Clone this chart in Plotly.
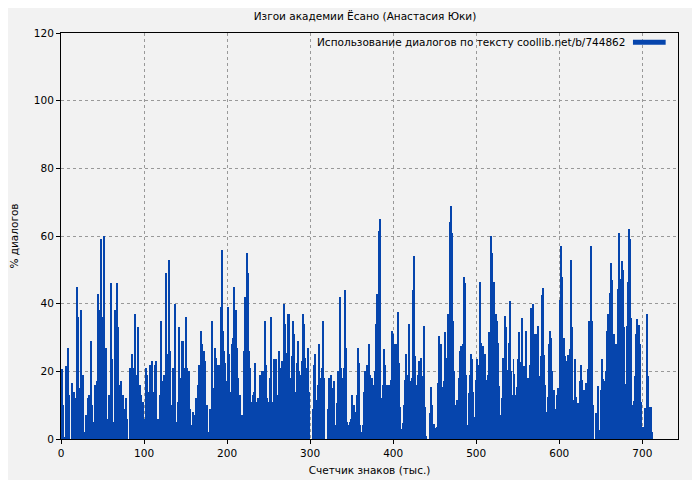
import numpy as np
import plotly.graph_objects as go

# usage of dialogue (%), four stretches of the text (thousand chars)
seg1 = [20.6, 10, 0.5, 21.5, 27, 13, 0, 16.5, 14, 12, 45, 36, 15, 38, 19, 2, 7, 12, 13, 29,
        10, 5, 16, 17, 43, 38, 59, 36, 60, 27, 6, 13, 46, 23.5, 5, 38, 46, 33, 16, 17,
        13, 9, 12, 6, 0, 21, 25, 21, 37, 19, 33, 16, 13, 11, 6, 21, 19, 14, 22, 23,
        14, 22, 23, 6, 13, 35, 17, 19, 49, 25, 53, 26, 10, 21, 40, 5, 11, 33, 18, 29,
        21, 36, 21, 20, 9, 4, 8, 7, 12, 16, 22, 32, 28, 26, 23, 10, 2, 9, 35, 15, 27, 24, 22]
seg2 = [16, 22, 39, 56, 32, 26, 22.5, 17, 11, 39, 25, 6, 14, 28, 30, 45, 29, 38, 27, 18,
        9, 13, 4, 7, 5, 26, 42, 32, 55, 49, 26, 21, 11, 13, 14, 22.5, 11, 7, 12, 9,
        19, 14, 20, 13, 20, 35, 22, 12, 11, 4, 18, 36, 8.5, 11, 23.5, 18, 23.5, 5, 13, 26,
        21, 13, 23, 22.5, 40, 34, 13, 25.5, 37, 37, 18, 12, 24.5, 35, 31, 14, 22.5, 29, 20, 11,
        19, 23, 37, 34, 24, 19, 21, 27, 14, 0, 0, 0, 9, 22, 25, 9, 11.5, 16, 28, 18,
        5, 21, 35, 18, 0, 0, 0, 9, 18, 9, 19, 15, 12.5, 17, 4, 2, 10.5, 20, 42, 21,
        8, 18, 21, 44, 27, 5, 2, 4, 5, 6, 13, 9, 10, 8, 3, 13, 27, 22.5, 4, 1.5,
        2, 4, 14, 20, 11, 22, 19, 28, 19, 12.5, 18, 16, 9, 20, 34, 43]
seg3 = [34, 43, 61.5, 65, 12, 2.5, 16, 26.5, 22, 8, 16, 10, 16, 8, 17.5, 32, 31, 22, 28, 28,
        21, 37.5, 22.5, 9.5, 3, 0, 4.7, 10, 17.5, 25, 19, 12, 34, 17, 1, 18, 44, 54, 24.5, 16,
        9, 19, 23, 17, 24, 12, 18.5, 33.5, 9.5, 1, 0, 0, 0, 7.6, 15.5, 10, 4, 4.4, 3.4, 1.5,
        3.5, 16.5, 30.5, 28, 28, 15.5, 1.4, 17, 31.5, 24, 22.5, 37, 34, 64, 69, 61, 35, 20, 10, 5.7,
        11.5, 5.7, 18, 26, 27.5, 4, 28, 48, 46, 19, 2, 4, 13.5, 19, 25, 23.5, 14, 3, 6.4, 17.5,
        23.5, 17, 22, 46.5, 28.5, 17, 27.5, 20, 25, 15.5, 17.5, 19, 31.5, 27, 60, 55, 34, 46.5, 25, 37,
        35, 28.5, 15.7, 7, 3.5, 12, 24, 23.5, 36.5, 33, 20.5, 8.3, 28.5, 40.7, 20, 13, 23.7, 19.3, 13, 15.5,
        23.7, 31.5, 20.7, 22.7, 35.7, 17.5, 21.5, 5, 32, 18, 18, 15, 21.8, 38.7, 21.8, 40, 20.3, 31, 19]
seg4 = [19, 31, 33.5, 18.6, 4, 24.5, 42.6, 44.6, 24.7, 16, 8, 4, 12.5, 28, 32, 30, 20, 11, 14.4, 9,
        7.4, 13, 15, 12, 41, 57, 48, 19.4, 30, 24.5, 17.6, 23, 24.7, 23.7, 26.5, 53, 33, 8.8, 11.5, 23.5,
        12.5, 10.5, 5, 10.6, 17, 22, 17.4, 10.5, 14.4, 10.3, 16.5, 10.5, 20.6, 35, 17.4, 57, 35, 10, 0, 0,
        7.6, 7.6, 15.7, 0, 2.6, 14.5, 23.7, 17.6, 17, 14.4, 20, 32, 36.8, 18.3, 43.3, 52, 47, 21.3, 31, 28,
        28, 14, 44.4, 61, 47.4, 17, 52.5, 50, 33, 15.2, 16.4, 33.5, 46.4, 62, 59, 35.8, 10, 10, 11.3, 18.6,
        31, 35.5, 32.5, 33.8, 28, 11, 1.5, 3.6, 0, 9.3, 9.3, 37, 18.6, 4.7, 9.6, 9.5, 2, 0]
# stretch bounds in thousand chars
spans = [(1, 189), (190, 381), (380.5, 571.5), (572.5, 713)]

xs, ys, ws = [], [], []
for vals, (a, b) in zip([seg1, seg2, seg3, seg4], spans):
    pos = np.linspace(a, b, len(vals))
    step = (b - a) / (len(vals) - 1)
    xs += list(pos)
    ys += vals
    ws += [step] * len(vals)

blue = "#0645ad"
fig = go.Figure(go.Bar(x=xs, y=ys, width=ws, marker=dict(color=blue, line=dict(width=0)),
                       showlegend=False))

axis = dict(showline=True, linecolor="black", linewidth=1, mirror=True, ticks="outside",
            ticklen=4, tickcolor="black", showgrid=True, gridcolor="#999999", griddash="dot",
            zeroline=False, automargin=False, tickfont=dict(size=10.5, color="black"))
fig.update_xaxes(axis, range=[0, 743], dtick=100, title=dict(text="Счетчик знаков (тыс.)", font=dict(size=10.5), standoff=9))
fig.update_yaxes(axis, range=[0, 120], dtick=20, title=dict(text="% диалогов", font=dict(size=10.5), standoff=20))

fig.add_annotation(text="Использование диалогов по тексту coollib.net/b/744862", xref="paper", yref="paper",
                   x=0.918, y=0.977, xanchor="right", yanchor="middle", showarrow=False,
                   font=dict(size=10.5, color="black"))
fig.add_shape(type="line", xref="paper", yref="paper", x0=0.927, x1=0.98, y0=0.977, y1=0.977,
              line=dict(color=blue, width=5))

fig.update_layout(
    width=700, height=480,
    title=dict(text="Изгои академии Ёсано (Анастасия Юки)", x=0.51, xanchor="center", y=0.99,
               font=dict(size=10.5, color="black")),
    font=dict(family="DejaVu Sans", size=10.5, color="black"),
    paper_bgcolor="#f2f2f2", plot_bgcolor="#f2f2f2",
    margin=dict(l=53, r=30, t=25, b=49), bargap=0,
)
fig.write_html("out.html")
